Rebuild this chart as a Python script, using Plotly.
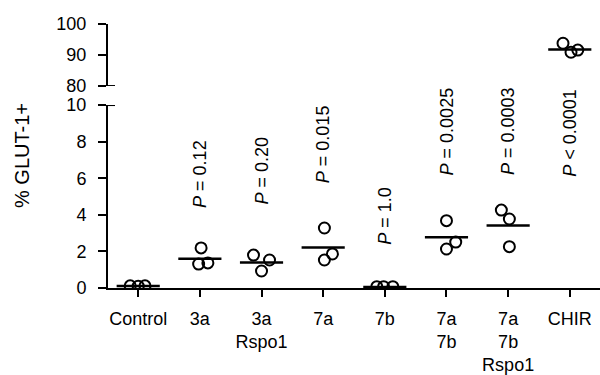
import plotly.graph_objects as go

# ---- data ----
categories = ["Control", "3a", "3a<br>Rspo1", "7a", "7b", "7a<br>7b", "7a<br>7b<br>Rspo1", "CHIR"]
point_values = [
    [0.12, 0.10, 0.12],
    [2.19, 1.31, 1.37],
    [1.80, 1.53, 0.93],
    [3.28, 1.86, 1.53],
    [0.07, 0.07, 0.07],
    [3.68, 2.51, 2.13],
    [4.26, 3.77, 2.26],
    [93.8, 90.9, 91.6],
]
point_jitter = [
    [-0.13, 0.0, 0.11],
    [0.02, -0.02, 0.13],
    [-0.13, 0.13, 0.0],
    [0.02, 0.15, 0.02],
    [-0.13, -0.02, 0.13],
    [0.0, 0.15, 0.0],
    [-0.11, 0.02, 0.02],
    [-0.11, 0.02, 0.13],
]
mean_values = [0.11, 1.60, 1.40, 2.22, 0.05, 2.77, 3.42, 91.8]
p_labels = ["", "<i>P</i> = 0.12", "<i>P</i> = 0.20", "<i>P</i> = 0.015", "<i>P</i> = 1.0",
            "<i>P</i> = 0.0025", "<i>P</i> = 0.0003", "<i>P</i> < 0.0001"]
p_label_y = [None, 4.26, 4.43, 5.63, 2.24, 6.07, 6.07, 5.96]
top_index = 7  # CHIR plotted on the upper (80-100) panel

FONT = "Liberation Sans, Arial, sans-serif"
FS = 18

fig = go.Figure()
for i, (vals, jit, m) in enumerate(zip(point_values, point_jitter, mean_values)):
    yax = "y2" if i == top_index else "y"
    fig.add_trace(go.Scatter(
        x=[i + j for j in jit], y=vals, mode="markers", yaxis=yax,
        marker=dict(symbol="circle-open", size=11, color="black", line=dict(width=2)),
        showlegend=False, hoverinfo="skip"))
    fig.add_trace(go.Scatter(
        x=[i - 0.35, i + 0.35], y=[m, m], mode="lines", yaxis=yax,
        line=dict(color="black", width=2.5), showlegend=False, hoverinfo="skip"))

for i, (lab, py) in enumerate(zip(p_labels, p_label_y)):
    if lab:
        fig.add_annotation(x=i, y=py, xref="x", yref="y", text=lab, textangle=-90,
                           showarrow=False, xanchor="center", yanchor="bottom",
                           font=dict(family=FONT, size=FS, color="black"))

fig.add_annotation(xref="paper", yref="paper", x=0, y=0.5, xshift=-86, text="% GLUT-1+",
                   textangle=-90, showarrow=False, xanchor="center", yanchor="middle",
                   font=dict(family=FONT, size=20, color="black"))

# break marks (small right-hand ticks at the axis break)
fig.add_shape(type="line", xref="x domain", yref="y2", xsizemode="pixel", xanchor=0,
              x0=0, x1=7, y0=80, y1=80, line=dict(color="black", width=2))
fig.add_shape(type="line", xref="x domain", yref="y", xsizemode="pixel", xanchor=0,
              x0=0, x1=7, y0=10, y1=10, line=dict(color="black", width=2))

fig.update_layout(
    width=600, height=375,
    margin=dict(l=108, r=0, t=24, b=87),
    paper_bgcolor="white", plot_bgcolor="white",
    font=dict(family=FONT, size=FS, color="black"),
    xaxis=dict(range=[-0.49, 7.49], tickmode="array", tickvals=list(range(len(categories))),
               ticktext=categories, showline=True, linecolor="black", linewidth=2,
               ticks="outside", ticklen=7, tickwidth=2, tickcolor="black",
               showgrid=False, zeroline=False, anchor="y", ticklabelstandoff=6),
    yaxis=dict(domain=[0, 0.693], range=[0, 10], tickvals=[0, 2, 4, 6, 8, 10],
               showline=True, linecolor="black", linewidth=2, ticks="outside", ticklen=8,
               tickwidth=2, tickcolor="black", showgrid=False, zeroline=False,
               ticklabelstandoff=8),
    yaxis2=dict(domain=[0.765, 1], range=[80, 100], tickvals=[80, 90, 100], anchor="x",
                showline=True, linecolor="black", linewidth=2, ticks="outside", ticklen=8,
                tickwidth=2, tickcolor="black", showgrid=False, zeroline=False,
                ticklabelstandoff=8),
)

fig.write_html("out.html")
